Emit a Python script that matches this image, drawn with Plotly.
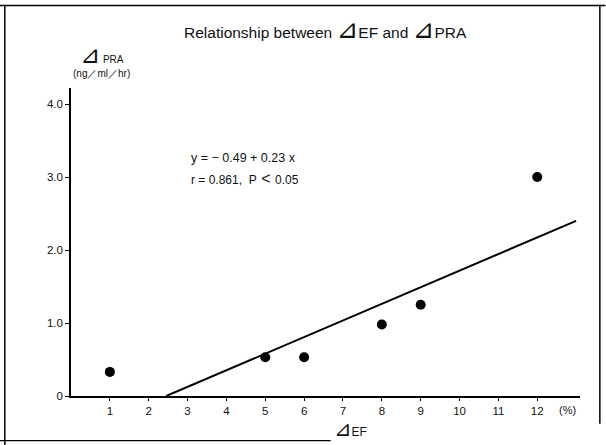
import plotly.graph_objects as go

# data
ef_change = [1, 5, 6, 8, 9, 12]
pra_change = [0.33, 0.53, 0.53, 0.98, 1.25, 3.0]
# regression line as drawn (y = -0.49 + 0.23x)
line_x = [2.45, 13.0]
line_y = [0.0, 2.4]
x_ticks = [1, 2, 3, 4, 5, 6, 7, 8, 9, 10, 11, 12]
y_ticks = [0, 1, 2, 3, 4]
y_tick_text = ["0", "1.0", "2.0", "3.0", "4.0"]

fig = go.Figure()
fig.add_trace(go.Scatter(x=line_x, y=line_y, mode="lines",
                         line=dict(color="black", width=2), showlegend=False))
fig.add_trace(go.Scatter(x=ef_change, y=pra_change, mode="markers",
                         marker=dict(color="black", size=10), showlegend=False))

font = "Liberation Sans, Arial, sans-serif"
fig.update_layout(
    width=606, height=445,
    margin=dict(l=71, r=26, t=88, b=49),
    paper_bgcolor="white", plot_bgcolor="white",
    font=dict(family=font, color="#111", size=11),
    xaxis=dict(range=[0, 13.1], tickvals=x_ticks, ticks="outside", ticklen=3,
               tickcolor="black", showline=True, linecolor="black", linewidth=1.5,
               showgrid=False, zeroline=False, tickfont=dict(size=11.5)),
    yaxis=dict(range=[0, 4.22], tickvals=y_ticks, ticktext=y_tick_text,
               ticks="outside", ticklen=4, tickcolor="black", showline=True,
               linecolor="black", linewidth=1.5, showgrid=False, zeroline=False,
               tickfont=dict(size=11.5)),
    showlegend=False,
)

# border box
fig.add_shape(type="line", xref="paper", yref="paper", x0=-0.13, x1=-0.13,
              y0=-0.16, y1=1.27, line=dict(color="black", width=1.5))
fig.add_shape(type="line", xref="paper", yref="paper", x0=-0.14, x1=1.05,
              y0=1.268, y1=1.268, line=dict(color="black", width=1.5))
fig.add_shape(type="line", xref="paper", yref="paper", x0=1.039, x1=1.039,
              y0=-0.09, y1=1.27, line=dict(color="black", width=1.5))
fig.add_shape(type="line", xref="paper", yref="paper", x0=-0.14, x1=0.51,
              y0=-0.145, y1=-0.145, line=dict(color="black", width=1.2))

tri = "<span style='font-family:DejaVu Sans;font-size:{}px'>⊿</span>"
ann = [
    dict(x=325, y=29, text="Relationship between " + tri.format(26) + "EF and " + tri.format(26) + "PRA", size=15.5, anchor="center"),
    dict(x=102, y=55, text=tri.format(24) + " PRA", size=10, anchor="center"),
    dict(x=101, y=73, text="(ng／ml／hr)", size=10, anchor="center"),
    dict(x=189, y=158, text="y = − 0.49 + 0.23 x", size=12.5, anchor="left"),
    dict(x=189, y=178, text="r = 0.861,  P<span style='font-size:16px'> &lt; </span>0.05", size=12, anchor="left"),
    dict(x=350, y=429, text=tri.format(21) + "EF", size=12, anchor="center"),
    dict(x=567, y=410, text="(%)", size=11, anchor="center"),
]
for a in ann:
    px, py = a["x"], a["y"]
    fig.add_annotation(x=(px - 71) / (606 - 71 - 26), y=(445 - 49 - py) / (445 - 88 - 49),
                       xref="paper", yref="paper",
                       text=a["text"], showarrow=False, xanchor=a["anchor"], yanchor="middle",
                       font=dict(size=a["size"], family=font, color="#111"))

fig.write_html("out.html")
